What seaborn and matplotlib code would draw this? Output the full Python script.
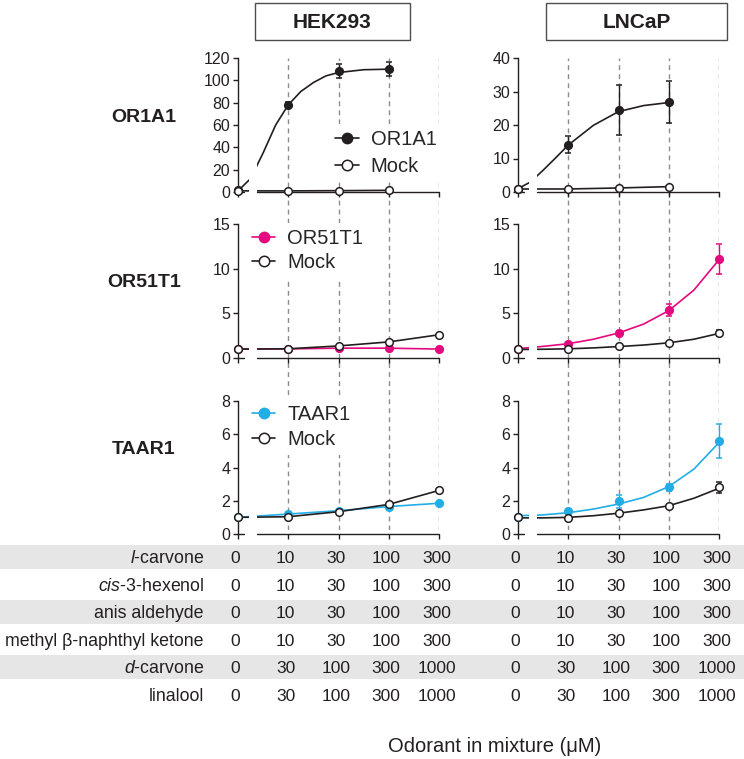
import matplotlib
matplotlib.use("Agg")
import matplotlib.pyplot as plt
import seaborn as sns
from matplotlib.lines import Line2D
from matplotlib.patches import Rectangle
from matplotlib.transforms import blended_transform_factory

# dose positions on the broken log axis (0, 10, 30, 100, 300)
dose_pos = [0, 1, 2, 3, 4]
fit_pos = [0, 0.5, 1, 1.5, 2, 2.5, 3, 3.5, 4]

# OR1A1 row
hek_or1a1 = [1.5, 78, 108.5, 110]
hek_or1a1_err = [0, 3, 6, 6]
hek_or1a1_mock = [1.0, 1.0, 1.2, 1.5]
hek_or1a1_fit_pos = [0, 0.25, 0.5, 0.75, 1, 1.25, 1.5, 1.75, 2, 2.5, 3]
hek_or1a1_fit = [1, 12, 35, 60, 78, 90, 98, 104, 107, 109.5, 110]
lncap_or1a1 = [1.0, 14.1, 24.4, 26.8]
lncap_or1a1_err = [0, 2.5, 7.5, 6.3]
lncap_or1a1_mock = [0.9, 0.9, 1.2, 1.6]
lncap_or1a1_fit_pos = [0, 0.25, 0.5, 0.75, 1, 1.5, 2, 2.5, 3]
lncap_or1a1_fit = [1, 3, 6.5, 10.2, 14, 19.9, 24, 25.8, 26.7]

# OR51T1 row
hek_or51t1 = [1.0, 1.02, 1.1, 1.1, 1.0]
hek_or51t1_mock = [1.0, 1.03, 1.35, 1.8, 2.6]
lncap_or51t1 = [1.0, 1.6, 2.8, 5.4, 11.1]
lncap_or51t1_err = [0, 0.2, 0.2, 0.7, 1.7]
lncap_or51t1_fit = [1.05, 1.3, 1.6, 2.1, 2.8, 3.8, 5.3, 7.6, 11.0]
lncap_or51t1_mock = [1.0, 1.0, 1.3, 1.7, 2.8]
lncap_or51t1_mock_err = [0, 0, 0, 0, 0.3]
lncap_or51t1_mock_fit = [0.95, 0.98, 1.03, 1.13, 1.28, 1.45, 1.7, 2.1, 2.75]

# TAAR1 row
hek_taar1 = [1.0, 1.2, 1.4, 1.65, 1.85]
hek_taar1_mock = [1.0, 1.04, 1.34, 1.78, 2.62]
lncap_taar1 = [1.05, 1.36, 1.96, 2.8, 5.6]
lncap_taar1_err = [0, 0.15, 0.4, 0.2, 1.0]
lncap_taar1_fit = [1.1, 1.15, 1.28, 1.5, 1.8, 2.2, 2.85, 3.9, 5.5]
lncap_taar1_mock = [1.0, 0.96, 1.26, 1.7, 2.8]
lncap_taar1_mock_err = [0, 0, 0, 0, 0.35]
lncap_taar1_mock_fit = [0.97, 0.97, 1.0, 1.1, 1.25, 1.45, 1.7, 2.15, 2.75]

receptors = ["OR1A1", "OR51T1", "TAAR1"]
cell_lines = ["HEK293", "LNCaP"]
y_limits = [(0, 120), (0, 15), (0, 8)]
y_ticks = [[0, 20, 40, 60, 80, 100, 120], [0, 5, 10, 15], [0, 2, 4, 6, 8]]
lncap_top_limits = (0, 40)
lncap_top_ticks = [0, 10, 20, 30, 40]

# odorant table
odorants = ["$\\mathit{l}$-carvone", "$\\mathit{cis}$-3-hexenol", "anis aldehyde",
            "methyl \u03b2-naphthyl ketone", "$\\mathit{d}$-carvone", "linalool"]
conc_low = [0, 10, 30, 100, 300]
conc_high = [0, 30, 100, 300, 1000]
odorant_conc = [conc_low, conc_low, conc_low, conc_low, conc_high, conc_high]

BLACK = "#231f20"
PINK = "#e5097f"
CYAN = "#22ade6"

sns.set_theme(style="white")
plt.rcParams["font.family"] = ["Liberation Sans", "DejaVu Sans"]
plt.rcParams["mathtext.fontset"] = "custom"
plt.rcParams["mathtext.rm"] = "Liberation Sans"
plt.rcParams["mathtext.it"] = "Liberation Sans:italic"

W, H = 744, 759
fig = plt.figure(figsize=(W / 100, H / 100), dpi=100)


def fx(px):
    return px / W


def fy(py):
    return 1 - py / H


col_left = [238, 518]
col_w = 201
rows = [(58, 192), (224, 358), (401, 534)]

# background axes carrying the dashed guide lines through all rows
for left in col_left:
    bg = fig.add_axes([fx(left), fy(530), col_w / W, (530 - 58) / H])
    bg.set_xlim(0, 4)
    bg.set_ylim(0, 1)
    bg.axis("off")
    for x in dose_pos[1:]:
        bg.axvline(x, color="#8c8c8c", lw=1, ls=(0, (3.5, 3)), zorder=0)


def curve(ax, x, y, color):
    sns.lineplot(x=x, y=y, ax=ax, color=color, lw=1.2, estimator=None, sort=False, zorder=2)
    ax.lines[-1].set_clip_on(False)


def points(ax, y, err, color, filled, z):
    x = dose_pos[:len(y)]
    ax.errorbar(x, y, yerr=err, fmt="o", ms=5.5, mew=1.1,
                mfc=color if filled else "white", mec=color, ecolor=color,
                elinewidth=1, capsize=2.5, capthick=1, zorder=z, clip_on=False)


def setup_axes(ax, ylim, yticks):
    ax.set_facecolor("none")
    ax.set_xlim(0, 4)
    ax.set_ylim(*ylim)
    ax.set_yticks(yticks)
    ax.set_xticks(dose_pos)
    ax.set_xticklabels([])
    for s in ["top", "right", "bottom"]:
        ax.spines[s].set_visible(False)
    ax.spines["left"].set_color(BLACK)
    ax.spines["left"].set_linewidth(1)
    ax.tick_params(axis="both", direction="out", length=3.5, width=1, color=BLACK,
                   left=True, bottom=True, labelsize=11.5, labelcolor=BLACK, pad=2)
    # broken x axis
    ax.axvspan(0.22, 0.38, color="white", zorder=2.5, lw=0)
    ax.plot([0, 0.12], [ylim[0], ylim[0]], color=BLACK, lw=1, clip_on=False, zorder=2.6)
    ax.plot([0.38, 4], [ylim[0], ylim[0]], color=BLACK, lw=1, clip_on=False, zorder=2.6)


def add_legend(ax, label, color, anchor, spacing):
    handles = [Line2D([], [], color=color, lw=1.2, marker="o", ms=7.5, mfc=color, mec=color),
               Line2D([], [], color=BLACK, lw=1.2, marker="o", ms=7.5, mfc="white", mec=BLACK, mew=1.1)]
    ax.legend(handles, [label, "Mock"], loc="upper left", bbox_to_anchor=anchor,
              fontsize=14.5, frameon=True, facecolor="white", edgecolor="none", framealpha=1,
              fancybox=False, handlelength=1.15, handletextpad=0.6, labelspacing=spacing,
              borderpad=0.3, borderaxespad=0)


axes = {}
for r, (top, bottom) in enumerate(rows):
    for c, left in enumerate(col_left):
        ax = fig.add_axes([fx(left), fy(bottom), col_w / W, (bottom - top) / H])
        if r == 0 and c == 1:
            setup_axes(ax, lncap_top_limits, lncap_top_ticks)
        else:
            setup_axes(ax, y_limits[r], y_ticks[r])
        axes[(r, c)] = ax

# OR1A1
ax = axes[(0, 0)]
curve(ax, hek_or1a1_fit_pos, hek_or1a1_fit, BLACK)
curve(ax, dose_pos[:4], hek_or1a1_mock, BLACK)
points(ax, hek_or1a1, hek_or1a1_err, BLACK, True, 3)
points(ax, hek_or1a1_mock, None, BLACK, False, 4)
add_legend(ax, "OR1A1", BLACK, (0.455, 0.508), 0.42)

ax = axes[(0, 1)]
curve(ax, lncap_or1a1_fit_pos, lncap_or1a1_fit, BLACK)
curve(ax, dose_pos[:4], lncap_or1a1_mock, BLACK)
points(ax, lncap_or1a1, lncap_or1a1_err, BLACK, True, 3)
points(ax, lncap_or1a1_mock, None, BLACK, False, 4)

# OR51T1
ax = axes[(1, 0)]
curve(ax, dose_pos, hek_or51t1, PINK)
curve(ax, dose_pos, hek_or51t1_mock, BLACK)
points(ax, hek_or51t1, None, PINK, True, 3)
points(ax, hek_or51t1_mock, None, BLACK, False, 4)
add_legend(ax, "OR51T1", PINK, (0.04, 1.005), 0.25)

ax = axes[(1, 1)]
curve(ax, fit_pos, lncap_or51t1_fit, PINK)
curve(ax, fit_pos, lncap_or51t1_mock_fit, BLACK)
points(ax, lncap_or51t1, lncap_or51t1_err, PINK, True, 3)
points(ax, lncap_or51t1_mock, lncap_or51t1_mock_err, BLACK, False, 4)

# TAAR1
ax = axes[(2, 0)]
curve(ax, dose_pos, hek_taar1, CYAN)
curve(ax, dose_pos, hek_taar1_mock, BLACK)
points(ax, hek_taar1, None, CYAN, True, 3)
points(ax, hek_taar1_mock, None, BLACK, False, 4)
add_legend(ax, "TAAR1", CYAN, (0.04, 1.015), 0.3)

ax = axes[(2, 1)]
curve(ax, fit_pos, lncap_taar1_fit, CYAN)
curve(ax, fit_pos, lncap_taar1_mock_fit, BLACK)
points(ax, lncap_taar1, lncap_taar1_err, CYAN, True, 3)
points(ax, lncap_taar1_mock, lncap_taar1_mock_err, BLACK, False, 4)

# row labels
for label, y in zip(receptors, [118, 283, 450]):
    fig.text(fx(144), fy(y), label, ha="center", va="center", fontsize=14,
             fontweight="bold", color=BLACK)

# cell line title boxes
for name, (x0, x1) in zip(cell_lines, [(255, 410), (546, 727)]):
    fig.add_artist(Rectangle((fx(x0), fy(40)), (x1 - x0) / W, 37 / H, transform=fig.transFigure,
                             fill=False, edgecolor="#4d4d4d", lw=1))
    fig.text(fx((x0 + x1) / 2), fy(22), name, ha="center", va="center", fontsize=15,
             fontweight="bold", color=BLACK)

# odorant table
row_y = [557, 585, 612, 640, 667, 695]
for i, (name, conc, y) in enumerate(zip(odorants, odorant_conc, row_y)):
    if i % 2 == 0:
        fig.add_artist(Rectangle((0, fy(y + 12)), 1, 24 / H, transform=fig.transFigure,
                                 color="#e6e6e6", lw=0, zorder=0))
    fig.text(fx(204), fy(y + 6), name, ha="right", va="baseline", fontsize=12.8, color=BLACK)
    for c in range(2):
        ax = axes[(2, c)]
        trans = blended_transform_factory(ax.transData, fig.transFigure)
        for p, v in zip(dose_pos, conc):
            ax.text(p - 0.05, fy(y + 6), str(v), transform=trans, ha="center", va="baseline",
                    fontsize=12.5, color=BLACK, clip_on=False)

fig.text(fx(495), fy(747), "Odorant in mixture (\u03bcM)", ha="center", va="center",
         fontsize=14.5, color=BLACK)

fig.savefig("out.png", dpi=100)
